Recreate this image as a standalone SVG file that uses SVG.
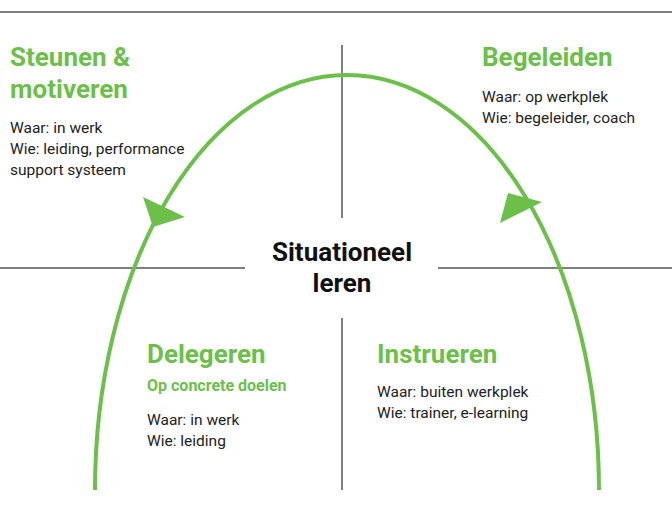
<svg xmlns="http://www.w3.org/2000/svg" width="672" height="520" viewBox="0 0 672 520">
<style>
.h{font-family:Roboto,"Liberation Sans",sans-serif;font-weight:bold;fill:#6cc04a;font-size:26px}
.s{font-family:Roboto,"Liberation Sans",sans-serif;font-weight:bold;fill:#6cc04a;font-size:16px}
.t{font-family:Roboto,"Liberation Sans",sans-serif;fill:#222;font-size:15.5px}
.c{font-family:Roboto,"Liberation Sans",sans-serif;font-weight:bold;fill:#111;font-size:26px}
.ln{stroke:#555;stroke-width:1.5;fill:none}
</style>
<rect width="672" height="520" fill="#fff"/>
<g id="axes">
<line class="ln" x1="0" y1="12" x2="672" y2="12"/>
<line class="ln" x1="342" y1="45" x2="342" y2="218"/>
<line class="ln" x1="342" y1="318" x2="342" y2="490"/>
<line class="ln" x1="0" y1="268" x2="245" y2="268"/>
<line class="ln" x1="438" y1="268" x2="672" y2="268"/>
</g>
<g id="connectors">
<path d="M95,490 A252,415 0 0 1 599,490" fill="none" stroke="#6cc04a" stroke-width="4"/>
<polygon points="143,197 185,217 153,227" fill="#6cc04a"/>
<polygon points="508,193 542,202 500,223" fill="#6cc04a"/>
</g>
<g id="center"><text class="c" text-anchor="middle" x="342" y="261">Situationeel</text><text class="c" text-anchor="middle" x="342" y="292">leren</text></g>
<g id="steunen"><text class="h" x="10" y="66">Steunen &amp;</text><text class="h" x="10" y="98">motiveren</text>
<text class="t" x="10" y="133">Waar: in werk</text><text class="t" x="10" y="154">Wie: leiding, performance</text><text class="t" x="10" y="175">support systeem</text></g>
<g id="begeleiden"><text class="h" x="482" y="66">Begeleiden</text>
<text class="t" x="482" y="102">Waar: op werkplek</text><text class="t" x="482" y="123">Wie: begeleider, coach</text></g>
<g id="delegeren"><text class="h" x="147" y="363">Delegeren</text><text class="s" x="147" y="391">Op concrete doelen</text>
<text class="t" x="147" y="425">Waar: in werk</text><text class="t" x="147" y="446">Wie: leiding</text></g>
<g id="instrueren"><text class="h" x="377" y="363">Instrueren</text>
<text class="t" x="377" y="397">Waar: buiten werkplek</text><text class="t" x="377" y="418">Wie: trainer, e-learning</text></g>
</svg>
